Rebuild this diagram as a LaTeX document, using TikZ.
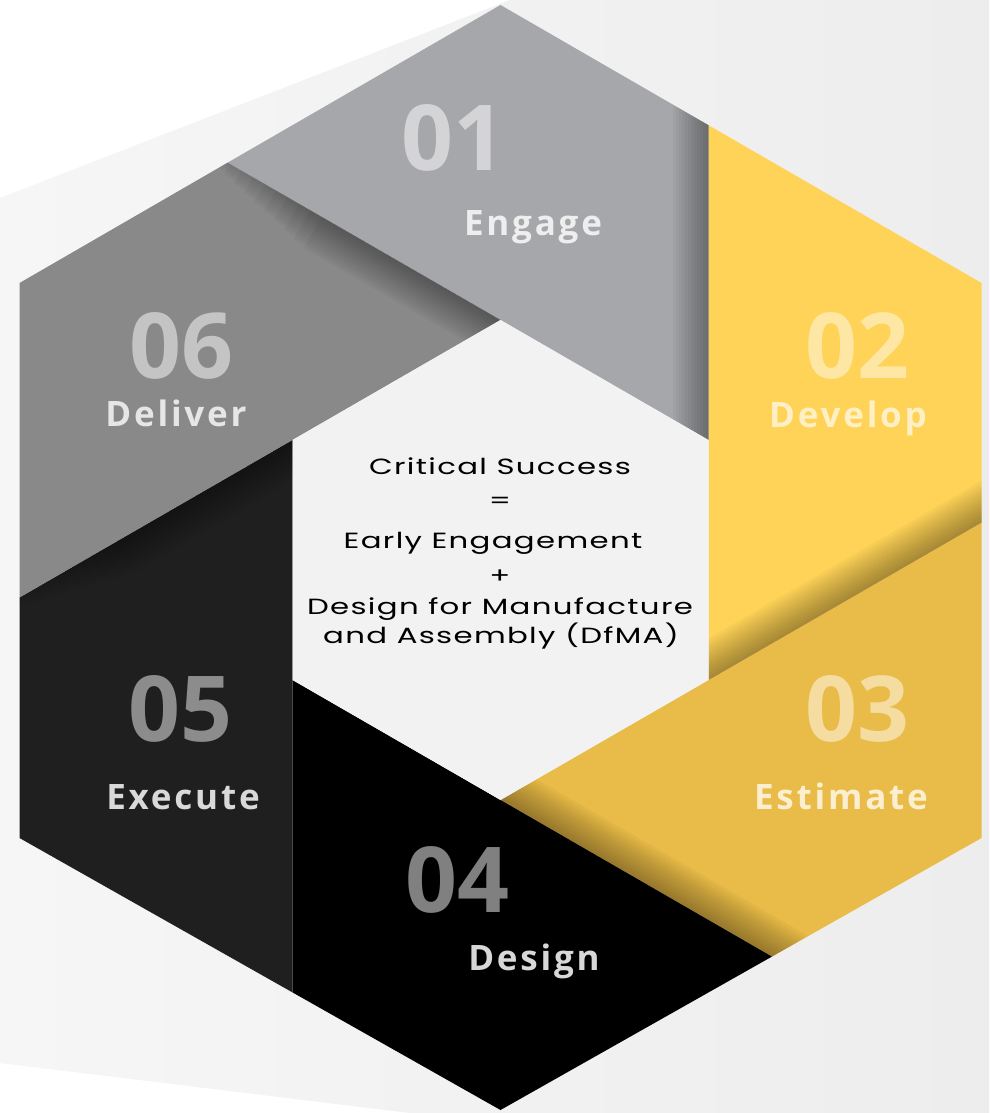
\documentclass[tikz,border=0pt]{standalone}
\usepackage{fontspec}
\newfontfamily\numfont{Open Sans}
\newfontfamily\labfont{Open Sans}[LetterSpace=8]
\newfontfamily\ctrfont{Poppins}[FakeStretch=1.4,LetterSpace=6]
\usetikzlibrary{calc}
\definecolor{bgl}{HTML}{F6F6F6}
\definecolor{bgr}{HTML}{EDEDED}
\definecolor{segA}{HTML}{A6A7AA}
\definecolor{segB}{HTML}{FED357}
\definecolor{segC}{HTML}{E9BB48}
\definecolor{segD}{HTML}{000000}
\definecolor{segE}{HTML}{1F1F1F}
\definecolor{segF}{HTML}{898989}
\definecolor{inner}{HTML}{F2F2F2}
\definecolor{numA}{HTML}{D4D4D6}
\definecolor{labA}{HTML}{EEEEEE}
\definecolor{numB}{HTML}{FEE7A4}
\definecolor{labB}{HTML}{FEF0C4}
\definecolor{numC}{HTML}{F5DCA0}
\definecolor{labC}{HTML}{FBEFD0}
\definecolor{numD}{HTML}{808080}
\definecolor{labD}{HTML}{D8D8D8}
\definecolor{numE}{HTML}{8C8C8C}
\definecolor{labE}{HTML}{D9D9D9}
\definecolor{numF}{HTML}{C4C4C4}
\definecolor{labF}{HTML}{E6E6E6}
\tikzset{
  num/.style={font=\numfont\bfseries\fontsize{91}{91}\selectfont, anchor=base, inner sep=0pt},
  lab/.style={font=\labfont\bfseries\fontsize{35}{35}\selectfont, anchor=base, inner sep=0pt},
  ctr/.style={font=\ctrfont\fontsize{22}{22}\selectfont, anchor=base, inner sep=0pt, text=black},
  sym/.style={font=\ctrfont\fontsize{22}{22}\selectfont, anchor=center, inner sep=0pt, text=black},
}
\newcommand{\shadowline}[3]{%
  \foreach \w in {6,12,...,72} {
    \draw[line width=\w pt, black, opacity=#3, shorten <=-90pt, shorten >=-90pt] (#1) -- (#2);
  }%
}
\newcommand{\taperline}[3]{%
  \foreach \w in {6,12,...,72} {
    \draw[line width=\w pt, black, opacity=#3, shorten <={(2.2*\w-50)*1pt}, shorten >=-90pt] (#1) -- (#2);
  }%
}
\begin{document}
\begin{tikzpicture}[x=1pt,y=-1pt]
\useasboundingbox (0,0) rectangle (989,1113);
\fill[white] (0,0) rectangle (989,1113);
\shade[left color=bgl, right color=bgr] (0,198) -- (510,0) -- (989,0) -- (989,1113) -- (410,1113) -- (0,1063) -- cycle;
% outer hexagon
\coordinate (O1) at (500.5,5);
\coordinate (O2) at (981.5,283);
\coordinate (O3) at (981.5,838);
\coordinate (O4) at (500.5,1110);
\coordinate (O5) at (19.5,838);
\coordinate (O6) at (19.5,283);
% inner hexagon
\coordinate (I1) at (500.5,320);
\coordinate (I2) at (708.5,440);
\coordinate (I3) at (708.5,680);
\coordinate (I4) at (500.5,800);
\coordinate (I5) at (292.5,680);
\coordinate (I6) at (292.5,440);
% divider ends
\coordinate (P1) at (227.7,162.6);
\coordinate (P2) at (708.5,125.2);
\coordinate (P3) at (981.5,522.5);
\coordinate (P4) at (771.9,956.6);
\coordinate (P5) at (292.5,992.4);
\coordinate (P6) at (19.5,597.5);
% segments
\fill[segA] (P1) -- (O1) -- (P2) -- (I2) -- (I1) -- cycle;
\fill[segB] (P2) -- (O2) -- (P3) -- (I3) -- (I2) -- cycle;
\fill[segC] (P3) -- (O3) -- (P4) -- (I4) -- (I3) -- cycle;
\fill[segD] (P4) -- (O4) -- (P5) -- (I5) -- (I4) -- cycle;
\fill[segE] (P5) -- (O5) -- (P6) -- (I6) -- (I5) -- cycle;
\fill[segF] (P6) -- (O6) -- (P1) -- (I1) -- (I6) -- cycle;
% shadows
\begin{scope}
  \clip (P1) -- (O1) -- (P2) -- (I2) -- (I1) -- cycle;
  \shadowline{P2}{I2}{0.032}
\end{scope}
\begin{scope}
  \clip (P2) -- (O2) -- (P3) -- (I3) -- (I2) -- cycle;
  \shadowline{P3}{I3}{0.03}
\end{scope}
\begin{scope}
  \clip (P3) -- (O3) -- (P4) -- (I4) -- (I3) -- cycle;
  \shadowline{P4}{I4}{0.03}
\end{scope}
\begin{scope}
  \clip (P5) -- (O5) -- (P6) -- (I6) -- (I5) -- cycle;
  \taperline{P6}{I6}{0.015}
\end{scope}
\begin{scope}
  \clip (P6) -- (O6) -- (P1) -- (I1) -- (I6) -- cycle;
  \taperline{P1}{I1}{0.03}
\end{scope}
% inner hexagon
\fill[inner] (I1) -- (I2) -- (I3) -- (I4) -- (I5) -- (I6) -- cycle;
% labels
\node[num, text=numA] (n1) at (453,170) {01};
\node[lab, text=labA] (l1) at (533,235) {Engage};
\node[num, text=numB] (n2) at (857,378) {02};
\node[lab, text=labB] (l2) at (848,427) {Develop};
\node[num, text=numC] (n3) at (857,741) {03};
\node[lab, text=labC] (l3) at (841,809) {Estimate};
\node[num, text=numD] (n4) at (457,912) {04};
\node[lab, text=labD] (l4) at (534,970) {Design};
\node[num, text=numE] (n5) at (180,741) {05};
\node[lab, text=labE] (l5) at (183,809) {Execute};
\node[num, text=numF] (n6) at (181,378) {06};
\node[lab, text=labF] (l6) at (176,426) {Deliver};
% centre text
\node[ctr] (c1) at (500,474) {Critical Success};
\node[sym] (c2) at (500,503) {=};
\node[ctr] (c3) at (493,548) {Early Engagement};
\node[sym] (c4) at (500,577) {+};
\node[ctr] (c5) at (500,614) {Design for Manufacture};
\node[ctr] (c6) at (501,643) {and Assembly (DfMA)};
\end{tikzpicture}
\end{document}
